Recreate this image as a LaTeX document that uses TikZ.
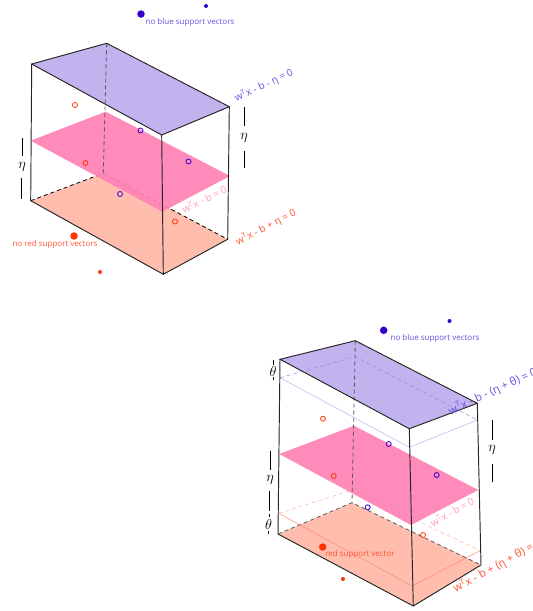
\documentclass[tikz,border=0pt]{standalone}
\usepackage{amsmath,amssymb}
\usepackage{fontspec}
\setmainfont{Open Sans}
\usepackage{xcolor}
\usetikzlibrary{calc}
\definecolor{topfill}{HTML}{C2B2EE}
\definecolor{midfill}{HTML}{FF82B6}
\definecolor{lowfill}{HTML}{FFBDAD}
\definecolor{bluept}{HTML}{3300CC}
\definecolor{redpt}{HTML}{FF3300}
\definecolor{bluetxt}{HTML}{6A4FE0}
\definecolor{pinktxt}{HTML}{FF9AC4}
\definecolor{redtxt}{HTML}{FF5533}
\tikzset{
    edge/.style={draw=black!85,line width=0.95pt},
    backedge/.style={draw=black!65,line width=0.8pt,dash pattern=on 4pt off 3pt},
    bar/.style={draw=black,line width=1pt},
    bigdot/.style={circle,inner sep=0pt,minimum size=7.5pt,fill=#1},
    smalldot/.style={circle,inner sep=0pt,minimum size=4pt,fill=#1},
    opendot/.style={circle,inner sep=0pt,minimum size=5pt,draw=#1,line width=0.8pt},
    caption/.style={font=\fontsize{8}{9}\selectfont,text=#1,inner sep=0pt},
    plane/.style={font=\fontsize{10}{12}\selectfont,text=#1,inner sep=0pt},
    wideplane/.style={font=\fontsize{11.2}{12}\selectfont,text=#1,inner sep=0pt},
    letter/.style={font=\fontsize{14}{14}\selectfont,inner sep=0pt}
}
\begin{document}
\begin{tikzpicture}[x=1pt,y=-1pt]
    \useasboundingbox (0,0) rectangle (533,611);

    % Left box
    \coordinate (LTa) at (31.7,64);
    \coordinate (LTb) at (106.7,43.3);
    \coordinate (LTc) at (229.3,106.7);
    \coordinate (LTd) at (161.7,135);
    \coordinate (LMa) at (30.7,140.7);
    \coordinate (LMb) at (105.7,111.7);
    \coordinate (LMc) at (230,176);
    \coordinate (LMd) at (162.3,211.7);
    \coordinate (LBa) at (30.7,200.7);
    \coordinate (LBb) at (103.3,173.3);
    \coordinate (LBc) at (227.7,239.3);
    \coordinate (LBd) at (163.3,274.3);

    \fill[lowfill] (LBa) -- (LBb) -- (LBc) -- (LBd) -- cycle;
    \draw[backedge,draw=black] (LBa) -- (LBb);
    \draw[backedge,draw=black] (LBb) -- (LBc);
    \fill[midfill,fill opacity=0.93] (LMa) -- (LMb) -- (LMc) -- (LMd) -- cycle;
    \fill[topfill] (LTa) -- (LTb) -- (LTc) -- (LTd) -- cycle;
    \draw[backedge] (LTb) -- (LBb);
    \draw[edge] (LTa) -- (LTb) -- (LTc) -- (LTd) -- cycle;
    \draw[edge] (LTa) -- (LBa) -- (LBd) -- (LBc) -- (LTc);
    \draw[edge] (LTd) -- (LBd);

    % Left points
    \node[bigdot=bluept] (lblue) at (141,14) {};
    \node[smalldot=bluept] (sblue) at (206,6) {};
    \node[bigdot=redpt] (lred) at (74,236) {};
    \node[smalldot=redpt] (sred) at (100,272) {};
    \node[opendot=redpt] (ra) at (75,105) {};
    \node[opendot=redpt] (rb) at (85.5,163) {};
    \node[opendot=redpt] (rc) at (175,221.5) {};
    \node[opendot=bluept] (ba) at (140.5,130.5) {};
    \node[opendot=bluept] (bb) at (188.5,161.5) {};
    \node[opendot=bluept] (bc) at (120,194) {};

    % Left labels
    \node[caption=bluetxt] (ltxt) at (190,22.5) {no blue support vectors};
    \node[caption=redtxt] (rtxt) at (55,244.5) {no red support vectors};
    \node[plane=bluetxt,rotate=25] (lup) at (264,85.5) {w\textsuperscript{T}x - b - η = 0};
    \node[plane=pinktxt,rotate=27] (lmid) at (204,199) {w\textsuperscript{T}x - b = 0};
    \node[plane=redtxt,rotate=27] (llow) at (266,227.5) {w\textsuperscript{T}x - b + η = 0};

    % Left eta marks
    \node[letter] (etaa) at (22,167) {$\eta$};
    \node[letter] (etab) at (244,137.5) {$\eta$};
    \draw[bar] (22,138) -- (22,156);
    \draw[bar] (21,178) -- (21,199);
    \draw[bar] (244,107) -- (244,126);
    \draw[bar] (244,151) -- (244,168);

    % Right box
    \coordinate (RTa) at (280,359.3);
    \coordinate (RTb) at (355.3,340.7);
    \coordinate (RTc) at (477.3,403.3);
    \coordinate (RTd) at (409.3,428.7);
    \coordinate (RUa) at (280,377.7);
    \coordinate (RUb) at (355.3,356.7);
    \coordinate (RUc) at (477.3,420);
    \coordinate (RUd) at (409.3,447.3);
    \coordinate (RMa) at (279.3,454);
    \coordinate (RMb) at (354,425.7);
    \coordinate (RMc) at (478.3,490);
    \coordinate (RMd) at (411,525);
    \coordinate (RLa) at (278.7,513.3);
    \coordinate (RLb) at (352.7,490);
    \coordinate (RLc) at (480,550.7);
    \coordinate (RLd) at (412,586);
    \coordinate (RBa) at (278,534);
    \coordinate (RBb) at (352,502.7);
    \coordinate (RBc) at (481,565);
    \coordinate (RBd) at (413.3,606);

    \fill[lowfill] (RBa) -- (RBb) -- (RBc) -- (RBd) -- cycle;
    \draw[backedge] (RBa) -- (RBb) -- (RBc);
    \draw[redtxt!70,line width=0.5pt] (RLa) -- (RLd) -- (RLc);
    \draw[redtxt!45,line width=0.5pt,dash pattern=on 4pt off 3pt] (RLa) -- (RLb) -- (RLc);
    \fill[midfill,fill opacity=0.93] (RMa) -- (RMb) -- (RMc) -- (RMd) -- cycle;
    \fill[topfill] (RTa) -- (RTb) -- (RTc) -- (RTd) -- cycle;
    \draw[bluetxt!45,line width=0.5pt] (RUa) -- (RUd) -- (RUc);
    \draw[bluetxt!70,line width=0.5pt,dash pattern=on 4pt off 3pt] (RUa) -- (RUb) -- (RUc);
    \draw[backedge] (RTb) -- (RBb);
    \draw[edge] (RTa) -- (RTb) -- (RTc) -- (RTd) -- cycle;
    \draw[edge] (RTa) -- (RBa) -- (RBd) -- (RBc) -- (RTc);
    \draw[edge] (RTd) -- (RBd);

    % Right points
    \node[bigdot=bluept] (lbluer) at (383.7,330.3) {};
    \node[smalldot=bluept] (sbluer) at (449.5,321) {};
    \node[bigdot=redpt] (lredr) at (322.7,547) {};
    \node[smalldot=redpt] (sredr) at (343,579) {};
    \node[opendot=redpt] (rar) at (323,418.7) {};
    \node[opendot=redpt] (rbr) at (333.7,476) {};
    \node[opendot=redpt] (rcr) at (423,535) {};
    \node[opendot=bluept] (bar) at (388.7,444) {};
    \node[opendot=bluept] (bbr) at (436.7,475) {};
    \node[opendot=bluept] (bcr) at (367.7,507.3) {};

    % Right labels
    \node[caption=bluetxt] (ltxtr) at (435,338.7) {no blue support vectors};
    \node[caption=redtxt] (rtxtr) at (360,554) {red support vector};
    \node[wideplane=bluetxt,rotate=25,anchor=west] (rup) at (449,412) {w\textsuperscript{T}x - b - (η + θ) = 0};
    \node[plane=pinktxt,rotate=30] (rmid) at (452,512) {w\textsuperscript{T}x - b = 0};
    \node[wideplane=redtxt,rotate=29,anchor=west] (rlow) at (454,590) {w\textsuperscript{T}x - b + (η + θ) = 0};

    % Right eta and theta marks
    \node[letter] (thetaa) at (273,371) {$\theta$};
    \node[letter] (etac) at (270,480) {$\eta$};
    \node[letter] (thetab) at (268.7,524) {$\theta$};
    \node[letter] (etad) at (492,450) {$\eta$};
    \draw[bar] (273,360) -- (273,365);
    \draw[bar] (273,377) -- (273,380);
    \draw[bar] (270,451) -- (270,470);
    \draw[bar] (269,491) -- (269,511);
    \draw[bar] (269,514) -- (269,517);
    \draw[bar] (268.5,531) -- (268.5,534);
    \draw[bar] (492,420) -- (492,440);
    \draw[bar] (492,464) -- (492,482);
\end{tikzpicture}
\end{document}
